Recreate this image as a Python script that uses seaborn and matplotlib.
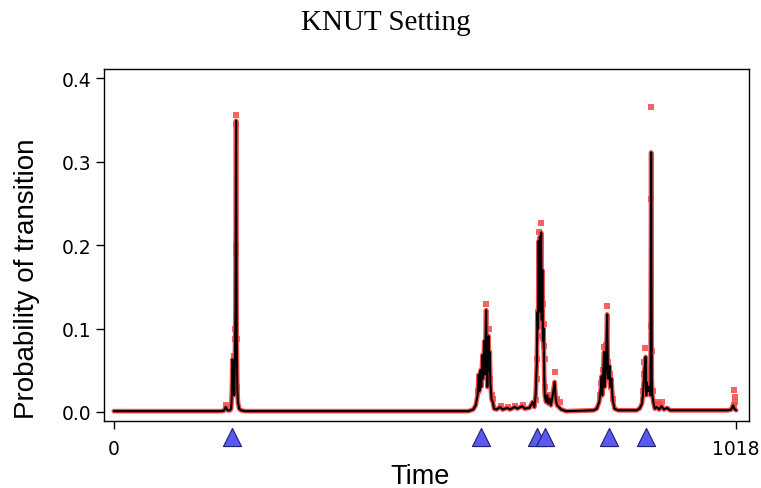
import numpy as np
import pandas as pd
import matplotlib
matplotlib.use("Agg")
import matplotlib.pyplot as plt
import matplotlib.transforms as mtransforms
import seaborn as sns

# ---- data ----
line_time = [0, 175, 180, 183, 186, 190, 192, 193, 194, 195, 196, 197, 198, 199, 200, 201, 202, 203, 205, 208, 215,
             580, 588, 592, 595, 597, 598, 600, 601, 603, 604, 606, 607, 609, 610, 611, 612, 613, 614, 615, 616, 618,
             620, 622, 626, 632, 636, 644, 648, 656, 660, 668, 672, 680, 685, 688, 690, 692, 693, 694, 695, 696, 697,
             698, 699, 700, 701, 702, 703, 704, 705, 707, 709, 711, 713, 715, 718, 721, 723, 725, 728, 732, 740,
             785, 790, 794, 797, 798, 799, 801, 802, 803, 805, 807, 808, 809, 811, 812, 814, 816, 819, 825,
             855, 860, 864, 866, 868, 870, 871, 872, 874, 876, 878, 879, 880, 881, 883, 885, 888, 892, 896, 900,
             905, 910, 1005, 1010, 1013, 1015, 1018]
line_prob = [0.001, 0.001, 0.0015, 0.006, 0.002, 0.002, 0.004, 0.02, 0.063, 0.03, 0.055, 0.02, 0.06, 0.12, 0.349,
             0.09, 0.03, 0.012, 0.004, 0.002, 0.001,
             0.001, 0.003, 0.008, 0.02, 0.045, 0.025, 0.05, 0.03, 0.068, 0.04, 0.085, 0.045, 0.122, 0.06, 0.03, 0.07,
             0.091, 0.05, 0.072, 0.035, 0.015,
             0.012, 0.004, 0.003, 0.006, 0.003, 0.005, 0.003, 0.006, 0.004, 0.007, 0.004, 0.005, 0.012, 0.006, 0.02,
             0.06, 0.12, 0.10, 0.205, 0.12, 0.21, 0.14, 0.215, 0.11, 0.17, 0.085, 0.10, 0.045, 0.02, 0.012, 0.02,
             0.01, 0.016, 0.008, 0.02, 0.036, 0.015, 0.008, 0.006, 0.003, 0.001,
             0.002, 0.004, 0.012, 0.03, 0.043, 0.02, 0.055, 0.072, 0.03, 0.05, 0.117, 0.06, 0.04, 0.055, 0.03, 0.04,
             0.015, 0.004, 0.002,
             0.002, 0.004, 0.01, 0.025, 0.05, 0.066, 0.02, 0.035, 0.025, 0.03, 0.02, 0.311, 0.04, 0.02, 0.01, 0.004,
             0.006, 0.003, 0.007, 0.003,
             0.005, 0.002, 0.002, 0.003, 0.008, 0.004, 0.002]

sample_time = [183, 195, 196, 197, 198, 199, 200, 200, 200, 200, 201, 202,
               596, 600, 604, 606, 609, 612, 614, 616, 618, 620, 633, 645, 657, 670,
               691, 692, 693, 694, 696, 697, 698, 700, 701, 702, 703, 704, 705, 706, 712, 716, 721, 725, 730,
               795, 797, 800, 802, 805, 807, 809, 812, 814, 817,
               866, 867, 868, 869, 871, 875, 879, 879, 879, 880, 882, 888, 892, 897,
               1014, 1015, 1016, 1016]
sample_prob = [0.008, 0.028, 0.067, 0.048, 0.087, 0.099, 0.356, 0.345, 0.199, 0.191, 0.087, 0.03,
               0.025, 0.035, 0.05, 0.06, 0.129, 0.078, 0.099, 0.04, 0.02, 0.015, 0.007, 0.006, 0.007, 0.008,
               0.014, 0.04, 0.063, 0.12, 0.216, 0.19, 0.226, 0.091, 0.135, 0.129, 0.105, 0.079, 0.063, 0.03, 0.02,
               0.016, 0.048, 0.015, 0.012,
               0.02, 0.035, 0.05, 0.078, 0.08, 0.127, 0.06, 0.045, 0.03, 0.015,
               0.025, 0.045, 0.06, 0.077, 0.04, 0.035, 0.366, 0.255, 0.103, 0.073, 0.025, 0.012, 0.01, 0.012,
               0.008, 0.026, 0.018, 0.012]

change_points = [194, 601, 693, 706, 810, 871]

x_ticks = [0, 1018]
y_ticks = [0.0, 0.1, 0.2, 0.3, 0.4]

line_df = pd.DataFrame({"Time": line_time, "Prob": line_prob})
sample_df = pd.DataFrame({"Time": sample_time, "Prob": sample_prob})
cp_df = pd.DataFrame({"Time": change_points, "y": [-0.045] * len(change_points)})

# ---- plotting ----
sns.set_theme(style="white")
plt.rcParams["font.family"] = ["DejaVu Sans"]
plt.rcParams["text.color"] = "black"
plt.rcParams["axes.labelcolor"] = "black"

fig = plt.figure(figsize=(7.61, 4.89), dpi=100)
ax = fig.add_axes([0.1367, 0.137, 0.9842 - 0.1367, 0.8569 - 0.137])

# red band of sampled points along the curve
sns.lineplot(data=line_df, x="Time", y="Prob", ax=ax, color="#f03a3a", lw=3.4,
             estimator=None, sort=False, alpha=0.9, zorder=2)
sns.scatterplot(data=sample_df, x="Time", y="Prob", ax=ax, color="#f54848", marker="s",
                s=14, linewidth=0, alpha=0.85, zorder=2)
sns.lineplot(data=line_df, x="Time", y="Prob", ax=ax, color="black", lw=1.5,
             estimator=None, sort=False, zorder=3)

# change point markers below the box
trans = mtransforms.blended_transform_factory(ax.transData, ax.transAxes)
ax.scatter(cp_df["Time"], cp_df["y"], marker="^", s=170, facecolor="#5a5af2",
           edgecolor="#20206a", linewidth=0.8, transform=trans, clip_on=False, zorder=5)

ax.set_xlim(-16, 1039)
ax.set_ylim(-0.0108, 0.411)
ax.set_xticks(x_ticks)
ax.set_xticklabels([str(v) for v in x_ticks])
ax.set_yticks(y_ticks)
ax.set_yticklabels([f"{v:.1f}" for v in y_ticks])
ax.tick_params(axis="both", direction="out", length=6, width=1.0, color="black",
               labelsize=13.5, labelcolor="black", bottom=True, left=True)
ax.tick_params(axis="x", pad=7)
ax.tick_params(axis="y", pad=3)

for sp in ax.spines.values():
    sp.set_visible(True)
    sp.set_color("black")
    sp.set_linewidth(1.0)

ax.set_xlabel("Time", fontsize=19.5, family=["Liberation Sans", "DejaVu Sans"], color="black")
ax.xaxis.label.set_va("baseline")
ax.xaxis.set_label_coords(0.4907, -0.177)
ax.set_ylabel("Probability of transition", fontsize=20, family=["Liberation Sans", "DejaVu Sans"],
              color="black")
ax.yaxis.label.set_va("center")
ax.yaxis.set_label_coords(-0.119, 0.406)
fig.suptitle("KNUT Setting", fontsize=21, family=["Liberation Serif", "DejaVu Serif"], x=0.507, y=0.98,
             color="black")

fig.savefig("out.png", dpi=100)
